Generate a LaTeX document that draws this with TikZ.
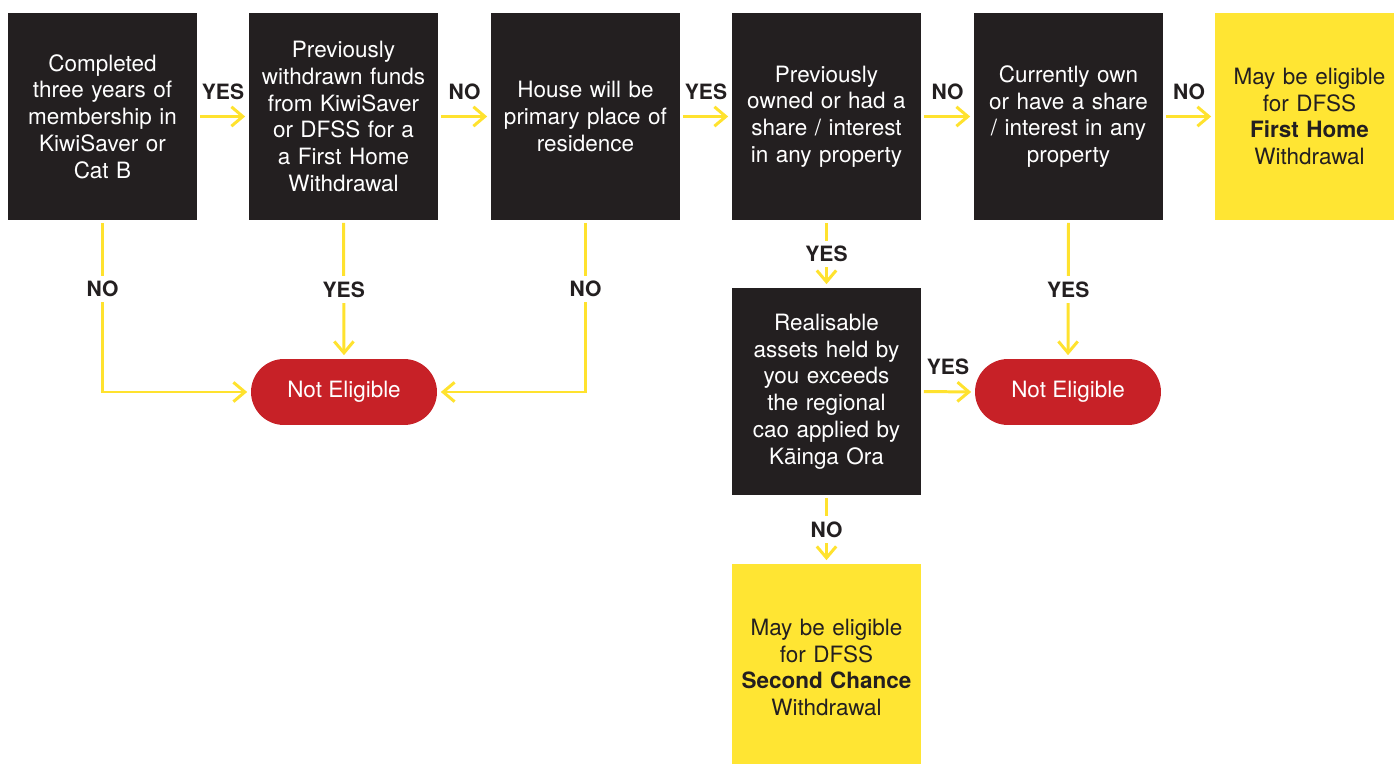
\documentclass[tikz,border=0pt]{standalone}
\usepackage{fontspec}
\setmainfont{TeX Gyre Heros}
\usetikzlibrary{arrows.meta}
\usetikzlibrary{positioning}
\definecolor{boxblack}{HTML}{231F20}
\definecolor{flowyellow}{HTML}{FFE533}
\definecolor{linkyellow}{HTML}{FFE22E}
\definecolor{stopred}{HTML}{C72127}
\tikzstyle{question}=[rectangle,fill=boxblack,text=white,minimum width=3.78cm,minimum height=4.14cm,text width=3.6cm,align=center,inner sep=0pt,font=\fontsize{12.8}{15.2}\selectfont]
\tikzstyle{outcome}=[question,fill=flowyellow,text=boxblack]
\tikzstyle{noteligible}=[rectangle,rounded corners=0.66cm,fill=stopred,text=white,minimum width=3.72cm,minimum height=1.32cm,inner sep=0pt,font=\fontsize{12.8}{15.2}\selectfont]
\tikzstyle{edge} = [draw,linkyellow,line width=1.7pt,-{Straight Barb[length=6.5pt,width=11pt]},shorten <=1.5pt,shorten >=2pt]
\tikzstyle{answer} = [font=\bfseries\fontsize{12}{14}\selectfont,text=boxblack,inner sep=3pt]

\begin{document}
\begin{tikzpicture}[x=0.02cm,y=-0.02cm]
\useasboundingbox (0,0) rectangle (1394,764);

    \foreach \pos/\name/\label in {{(102.5,116.5)/q1/{Completed\\three years of\\membership in\\KiwiSaver or\\Cat B}},
        {(343.5,116.5)/q2/{Previously\\withdrawn funds\\from KiwiSaver\\or DFSS for a\\a First Home\\Withdrawal}},
        {(585.5,116.5)/q3/{House will be\\primary place of\\residence}},
        {(826.5,116.5)/q4/{Previously\\owned or had a\\share / interest\\in any property}},
        {(1068.5,116.5)/q5/{Currently own\\or have a share\\/ interest in any\\property}},
        {(826.5,391.5)/q7/{Realisable\\assets held by\\you exceeds\\the regional\\cao applied by\\Kāinga Ora}}}
        \node[question] (\name) at \pos {\label};

    % outcomes
    \node[outcome] (res1) at (1309.5,116.5) {May be eligible\\for DFSS\\\textbf{First Home}\\Withdrawal};
    \node[outcome] (res2) at (826.5,667.5) {May be eligible\\for DFSS\\\textbf{Second Chance}\\Withdrawal};
    \node[noteligible] (ne1) at (344,392) {Not Eligible};
    \node[noteligible] (ne2) at (1068,392) {Not Eligible};

    % top row answers
  \foreach \source/ \dest /\reply in {q1/q2/YES, q2/q3/NO, q3/q4/YES, q4/q5/NO, q5/res1/NO}
          \path[edge] (\source.east) -- node[answer,above=0.2cm] {\reply} (\dest.west);

  \path[edge] (q1.south) |- node[answer,fill=white,pos=0.2] {NO} (ne1.west);
  \path[edge] (q2.south) -- node[answer,fill=white] {YES} (ne1.north);
  \path[edge] (q3.south) |- node[answer,fill=white,pos=0.2] {NO} (ne1.east);
  \path[edge] (q4.south) -- node[answer,fill=white] {YES} (q7.north);
  \path[edge] (q5.south) -- node[answer,fill=white] {YES} (ne2.north);
  \path[edge] (q7.east) -- node[answer,above=0.2cm] {YES} (ne2.west);
  \path[edge] (q7.south) -- node[answer,fill=white] {NO} (res2.north);

\end{tikzpicture}
\end{document}
